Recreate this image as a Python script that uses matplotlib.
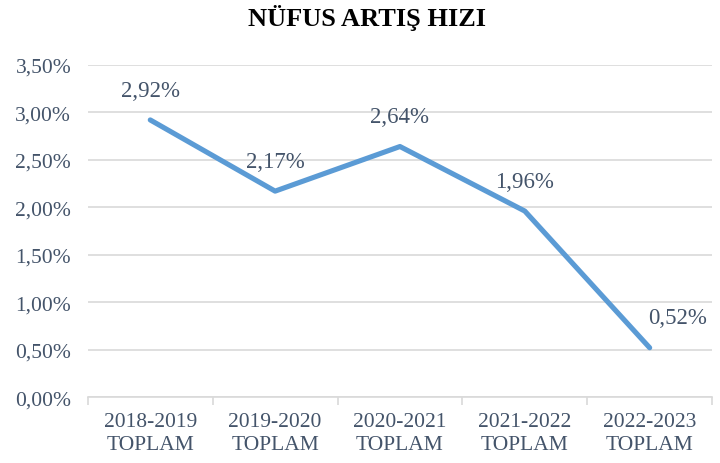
import matplotlib.pyplot as plt
import matplotlib.ticker as mticker
import numpy as np

# Yearly population growth rate (percent)
categories = ["2018-2019\nTOPLAM", "2019-2020\nTOPLAM", "2020-2021\nTOPLAM",
              "2021-2022\nTOPLAM", "2022-2023\nTOPLAM"]
growth = [2.92, 2.17, 2.64, 1.96, 0.52]
labels = ["2,92%", "2,17%", "2,64%", "1,96%", "0,52%"]

text_color = "#44546A"
line_color = "#5B9BD5"
grid_color = "#D9D9D9"

plt.rcParams['font.family'] = ['Liberation Serif', 'DejaVu Serif']

fig = plt.figure(figsize=(7.2, 4.64), dpi=100)
ax = fig.add_axes([0.122, 0.142, 0.867, 0.716])

x = np.arange(len(growth))
ax.plot(x, growth, color=line_color, linewidth=3.7, solid_capstyle='round',
        solid_joinstyle='round', zorder=3)

# data labels above each point, last one nudged right like the original
for i, (v, lab) in enumerate(zip(growth, labels)):
    dx = 20 if i == len(growth) - 1 else 0
    ax.annotate(lab, (i, v), xytext=(dx, 21.5), textcoords='offset points',
                ha='center', va='center', fontsize=16.5, color=text_color)

ax.set_xlim(-0.5, len(growth) - 0.5)
ax.set_ylim(0, 3.5)
ax.yaxis.set_major_locator(mticker.MultipleLocator(0.5))
ax.yaxis.set_major_formatter(mticker.FuncFormatter(lambda v, p: f"{v:.2f}%".replace('.', ',')))
ax.grid(axis='y', color=grid_color, linewidth=1.2, zorder=0)

ax.set_xticks(x)
ax.set_xticklabels(categories, linespacing=1.25)
ax.set_xticks(np.arange(-0.5, len(growth)), minor=True)
ax.tick_params(axis='x', which='major', length=0, pad=11, labelsize=15.5, labelcolor=text_color)
ax.tick_params(axis='x', which='minor', length=6, color=grid_color, width=1.2)
ax.tick_params(axis='y', length=0, pad=12, labelsize=15.5, labelcolor=text_color)

for s in ['top', 'right', 'left']:
    ax.spines[s].set_visible(False)
ax.spines['bottom'].set_color(grid_color)
ax.spines['bottom'].set_linewidth(1.2)

fig.text(0.51, 0.961, "NÜFUS ARTIŞ HIZI", ha='center', va='center',
         fontsize=19, fontweight='bold', color='black')

fig.savefig("out.png", dpi=100)
